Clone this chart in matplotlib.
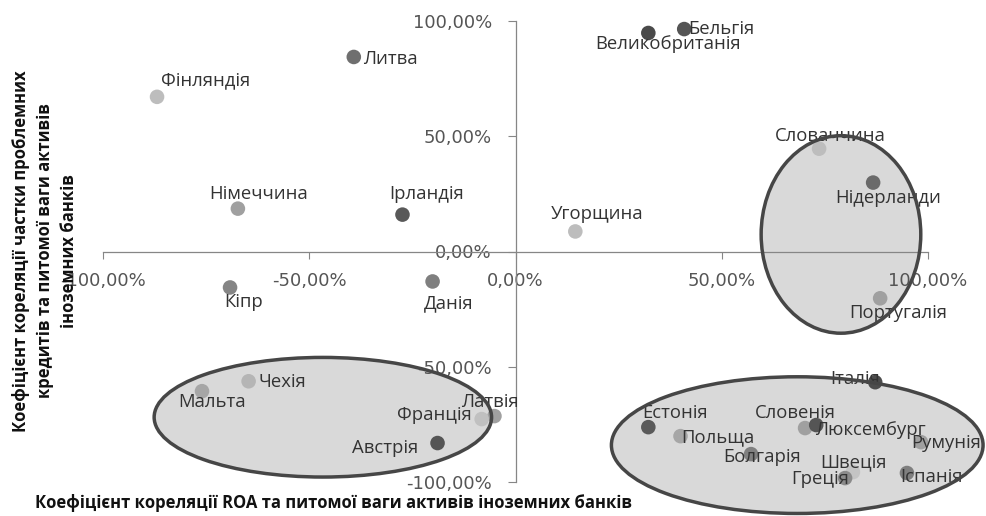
import matplotlib
matplotlib.use("Agg")
import matplotlib.pyplot as plt
from matplotlib.patches import Ellipse

# data: correlation coefficients, %
countries = ["Фінляндія", "Литва", "Німеччина", "Ірландія", "Кіпр", "Данія",
             "Великобританія", "Бельгія", "Угорщина", "Словаччина", "Нідерланди",
             "Португалія", "Італія", "Естонія", "Польща", "Болгарія", "Словенія",
             "Люксембург", "Румунія", "Швеція", "Греція", "Іспанія",
             "Латвія", "Франція", "Австрія", "Мальта", "Чехія"]
roa_corr = [-86.9, -39.2, -67.3, -27.4, -69.2, -20.1,
            32.2, 40.9, 14.5, 73.6, 86.7,
            88.4, 87.2, 32.2, 40.0, 57.1, 70.2,
            72.9, 98.3, 81.8, 79.9, 94.9,
            -5.1, -8.2, -18.9, -76.0, -64.7]
npl_corr = [67.1, 84.4, 18.6, 16.0, -15.6, -13.0,
            94.8, 96.5, 8.7, 44.6, 29.9,
            -20.3, -56.7, -76.2, -80.1, -87.9, -76.6,
            -75.3, -82.7, -95.7, -98.3, -96.1,
            -71.4, -72.7, -83.1, -60.6, -56.3]

# styles
point_colors = ["#bdbdbd", "#6f6f6f", "#a0a0a0", "#595959", "#858585", "#7f7f7f",
                "#4a4a4a", "#555555", "#bdbdbd", "#bdbdbd", "#6a6a6a",
                "#a0a0a0", "#4d4d4d", "#5a5a5a", "#a6a6a6", "#808080", "#a0a0a0",
                "#555555", "#a0a0a0", "#c4c4c4", "#8a8a8a", "#7f7f7f",
                "#a0a0a0", "#c0c0c0", "#555555", "#a6a6a6", "#b5b5b5"]
# label centre offsets from the point, in pixels (dx right, dy down)
label_offsets = [(49, -17), (37, 2), (21, -15), (24, -21), (14, 15), (16, 22),
                 (20, 11), (37, 0), (22, -17), (11, -13), (15, 15),
                 (18, 15), (-20, -3), (27, -14), (37, 1), (11, 3), (-10, -15),
                 (54, 5), (25, 1), (1, -10), (-25, 1), (25, 4),
                 (-5, -14), (-47, -4), (-52, 5), (10, 11), (34, 1)]

# highlight groups: centre x, centre y, width, height (data units)
groups = [(78.9, 7.4, 38.7, 85.7),
          (-46.7, -71.9, 81.8, 51.9),
          (68.3, -84.0, 90.1, 59.3)]

FONT = "Open Sans"
fig = plt.figure(figsize=(9.86, 5.16), dpi=100)
ax = fig.add_axes([103 / 986, 1 - 482 / 516, (928 - 103) / 986, (482 - 21) / 516])
ax.set_xlim(-100, 100)
ax.set_ylim(-100, 100)

for cx, cy, w, h in groups:
    ax.add_patch(Ellipse((cx, cy), w, h, facecolor="#d9d9d9", edgecolor="none",
                         zorder=1, clip_on=False))
    ax.add_patch(Ellipse((cx, cy), w, h, facecolor="none", edgecolor="#464646",
                         lw=2.5, zorder=10, clip_on=False))

ax.scatter(roa_corr, npl_corr, s=110, c=point_colors, edgecolors="none", zorder=3,
           clip_on=False)

for name, x, y, (dx, dy) in zip(countries, roa_corr, npl_corr, label_offsets):
    ax.annotate(name, (x, y), xytext=(dx * 0.72, -dy * 0.72), textcoords="offset points",
                ha="center", va="center", fontsize=13.3, color="#333333",
                family=FONT, zorder=4, annotation_clip=False)

ticks = [-100, -50, 0, 50, 100]
labels = [("%.2f%%" % t).replace(".", ",") for t in ticks]
ax.set_xticks(ticks)
ax.set_xticklabels(labels)
ax.set_yticks(ticks)
ax.set_yticklabels(labels)
for lab in ax.get_xticklabels() + ax.get_yticklabels():
    lab.set_family(FONT)
ax.tick_params(axis="x", direction="out", length=5, width=0.8, color="#868686",
               labelsize=13, labelcolor="#555555", pad=9.5)
ax.tick_params(axis="y", direction="out", length=6, width=0.8, color="#868686",
               labelsize=13, labelcolor="#555555", pad=11)

ax.spines["left"].set_position(("data", 0))
ax.spines["bottom"].set_position(("data", 0))
ax.spines["top"].set_visible(False)
ax.spines["right"].set_visible(False)
for s in ["left", "bottom"]:
    ax.spines[s].set_color("#868686")
    ax.spines[s].set_linewidth(0.9)
ax.patch.set_visible(False)

fig.text(35 / 986, 1 - 503 / 516,
         "Коефіцієнт кореляції ROA та питомої ваги активів іноземних банків",
         ha="left", va="center", fontsize=12, fontweight="bold", family=FONT,
         color="#111111")
fig.text(45 / 986, 1 - 251 / 516,
         "Коефіцієнт кореляції частки проблемних\nкредитів та питомої ваги активів\nіноземних банків",
         ha="center", va="center", rotation=90, multialignment="center",
         fontsize=12, fontweight="bold", family=FONT, color="#111111",
         linespacing=1.4)

fig.savefig("out.png", dpi=100)
